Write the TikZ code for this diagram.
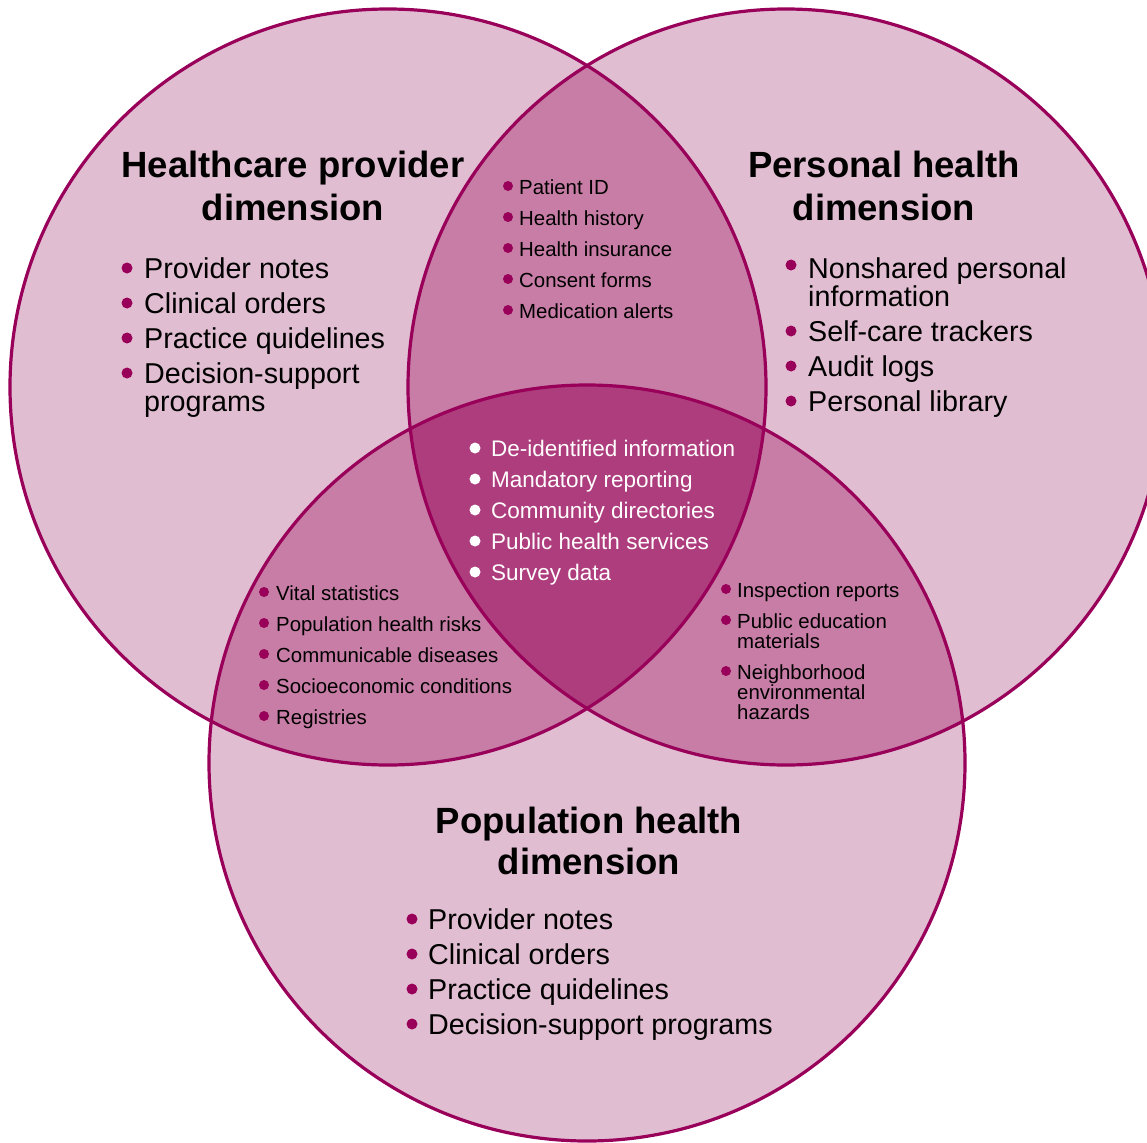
\documentclass[tikz,border=0pt]{standalone}
\usepackage{fontspec}
\setmainfont{Liberation Sans}
\definecolor{rimc}{RGB}{153,0,90}
\definecolor{onec}{RGB}{225,189,209}
\definecolor{twoc}{RGB}{199,125,165}
\definecolor{threec}{RGB}{174,61,125}
\begin{document}
\begin{tikzpicture}[x=1pt, y=-1pt,
  rim/.style={draw=rimc, line width=3.2pt},
  ttl/.style={anchor=base, inner sep=0pt, font=\fontsize{36.5}{42}\selectfont\bfseries},
  bigitem/.style={anchor=base west, inner sep=0pt, font=\fontsize{28.7}{34}\selectfont},
  smallitem/.style={anchor=base west, inner sep=0pt, font=\fontsize{20.4}{24}\selectfont},
  miditem/.style={anchor=base west, inner sep=0pt, text=white, font=\fontsize{22.5}{26}\selectfont}]

\useasboundingbox (0,0) rectangle (1147,1142);
\clip (0,0) rectangle (1147,1142);

\coordinate (lc) at (388,387);
\coordinate (rc) at (786,387);
\coordinate (bc) at (587,763);

\fill[onec] (lc) circle (378);
\fill[onec] (rc) circle (378);
\fill[onec] (bc) circle (378);
\begin{scope}
\clip (lc) circle (378);
\fill[twoc] (rc) circle (378);
\fill[twoc] (bc) circle (378);
\end{scope}
\begin{scope}
\clip (rc) circle (378);
\fill[twoc] (bc) circle (378);
\end{scope}
\begin{scope}
\clip (lc) circle (378);
\clip (rc) circle (378);
\fill[threec] (bc) circle (378);
\end{scope}
\draw[rim] (lc) circle (378);
\draw[rim] (rc) circle (378);
\draw[rim] (bc) circle (378);

\node[ttl] (hpt1) at (293,178) {Healthcare provider};
\node[ttl] (hpt2) at (293,220) {dimension};
\node[ttl] (pht1) at (884,178) {Personal health};
\node[ttl] (pht2) at (884,220) {dimension};
\node[ttl] (popt1) at (589,833) {Population health};
\node[ttl] (popt2) at (589,874) {dimension};

\foreach \t [count=\i] in {Provider notes, Clinical orders, Practice quidelines, Decision-support}{
\node[bigitem] (hp\i) at (144,243+35*\i) {\t};
\fill[rimc] ([shift={(-17pt,10pt)}]hp\i.base west) circle (5.5pt);
}
\node[bigitem] (hp5) at (144,411) {programs};

\node[bigitem] (ph1) at (808,278) {Nonshared personal};
\node[bigitem] (ph2) at (808,306) {information};
\fill[rimc] ([shift={(-17pt,13pt)}]ph1.base west) circle (5.5pt);
\foreach \t [count=\i from 3] in {Self-care trackers, Audit logs, Personal library}{
\node[bigitem] (ph\i) at (808,236+35*\i) {\t};
\fill[rimc] ([shift={(-17pt,10pt)}]ph\i.base west) circle (5.5pt);
}

\foreach \t [count=\i] in {Provider notes, Clinical orders, Practice quidelines, Decision-support programs}{
\node[bigitem] (pop\i) at (428,894+35*\i) {\t};
\fill[rimc] ([shift={(-16pt,10pt)}]pop\i.base west) circle (5.5pt);
}

\foreach \t [count=\i] in {Patient ID, Health history, Health insurance, Consent forms, Medication alerts}{
\node[smallitem] (lr\i) at (519,163+31*\i) {\t};
\fill[rimc] ([shift={(-11pt,8pt)}]lr\i.base west) circle (5pt);
}

\foreach \t [count=\i] in {Vital statistics, Population health risks, Communicable diseases, Socioeconomic conditions, Registries}{
\node[smallitem] (lb\i) at (276,569+31*\i) {\t};
\fill[rimc] ([shift={(-12pt,8pt)}]lb\i.base west) circle (5pt);
}

\node[smallitem] (rb1) at (737,597) {Inspection reports};
\node[smallitem] (rb2) at (737,628) {Public education};
\node[smallitem] (rb3) at (737,648) {materials};
\node[smallitem] (rb4) at (737,679) {Neighborhood};
\node[smallitem] (rb5) at (737,699) {environmental};
\node[smallitem] (rb6) at (737,719) {hazards};
\foreach \i in {1,2,4}{\fill[rimc] ([shift={(-11pt,8pt)}]rb\i.base west) circle (5pt);}

\foreach \t [count=\i] in {De-identified information, Mandatory reporting, Community directories, Public health services, Survey data}{
\node[miditem] (all\i) at (491,425+31*\i) {\t};
\fill[white] ([shift={(-16pt,8pt)}]all\i.base west) circle (5.5pt);
}
\end{tikzpicture}
\end{document}
